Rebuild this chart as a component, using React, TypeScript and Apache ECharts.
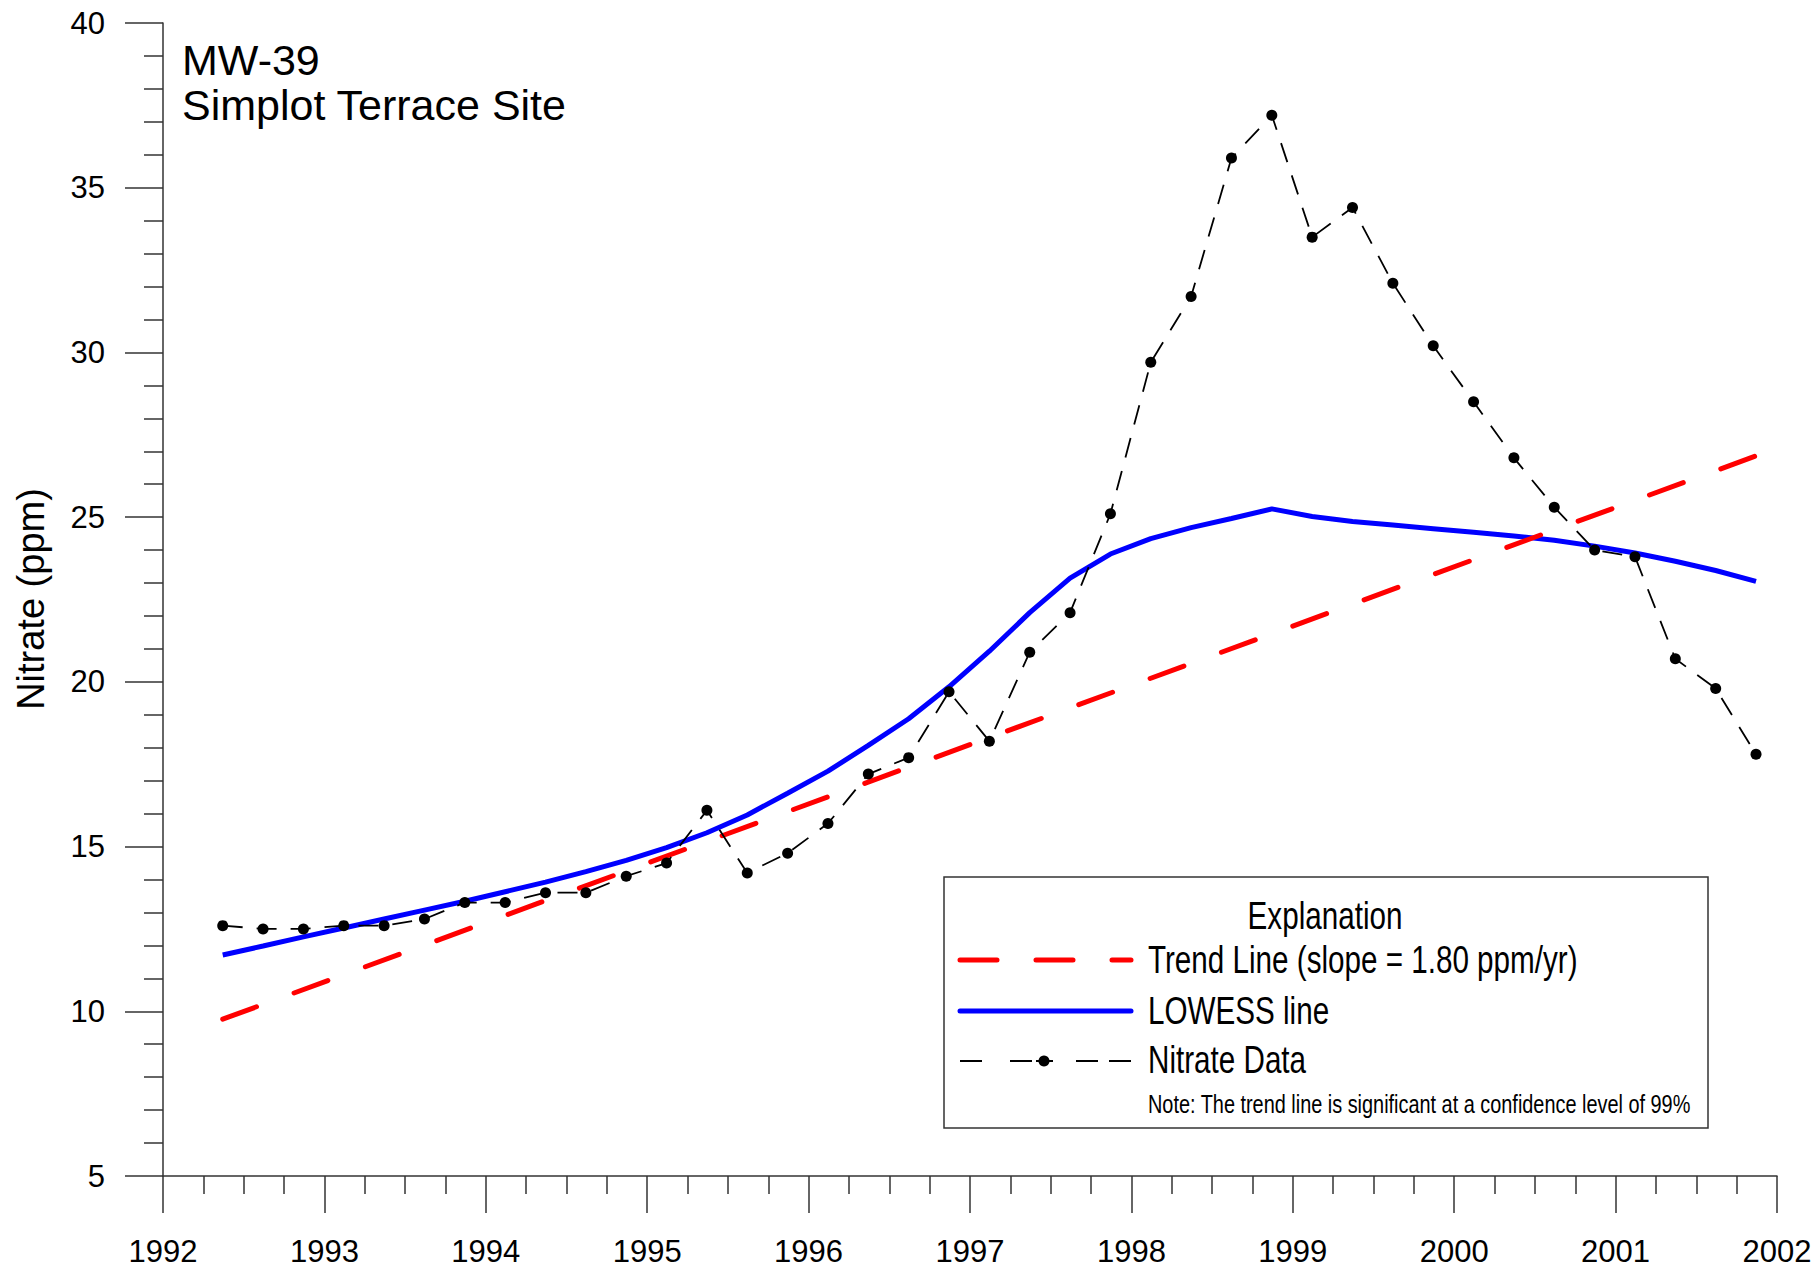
import React, { useEffect, useRef } from "react";
import * as echarts from "echarts";

// Sample dates as decimal years
const sampleYears = [
  1992.37, 1992.62, 1992.87,
  1993.12, 1993.37, 1993.62, 1993.87,
  1994.12, 1994.37, 1994.62, 1994.87,
  1995.12, 1995.37, 1995.62, 1995.87,
  1996.12, 1996.37, 1996.62, 1996.87,
  1997.12, 1997.37, 1997.62, 1997.87,
  1998.12, 1998.37, 1998.62, 1998.87,
  1999.12, 1999.37, 1999.62, 1999.87,
  2000.12, 2000.37, 2000.62, 2000.87,
  2001.12, 2001.37, 2001.62, 2001.87,
];

// Nitrate data (ppm)
const nitrate = [
  12.6, 12.5, 12.5,
  12.6, 12.6, 12.8, 13.3,
  13.3, 13.6, 13.6, 14.1,
  14.5, 16.1, 14.2, 14.8,
  15.7, 17.2, 17.7, 19.7,
  18.2, 20.9, 22.1, 25.1,
  29.7, 31.7, 35.9, 37.2,
  33.5, 34.4, 32.1, 30.2,
  28.5, 26.8, 25.3, 24.0,
  23.8, 20.7, 19.8, 17.8,
];

// LOWESS smooth (ppm)
const lowess = [
  11.71, 11.98, 12.26,
  12.53, 12.8, 13.07, 13.34,
  13.63, 13.92, 14.24, 14.58,
  14.97, 15.42, 15.96, 16.62,
  17.29, 18.07, 18.88, 19.85,
  20.93, 22.1, 23.15, 23.88,
  24.35, 24.68, 24.96, 25.25,
  25.02, 24.87, 24.76, 24.65,
  24.54, 24.43, 24.3, 24.12,
  23.91, 23.66, 23.38, 23.05,
];

// Trend line end points
const trendYears = [1992.37, 2001.87];
const trendValues = [9.76, 26.86];

const xTicks = { min: 1992, max: 2002, interval: 1 };
const yTicks = { min: 5, max: 40, interval: 5 };

const titleLines = ["MW-39", "Simplot Terrace Site"];
const yAxisName = "Nitrate (ppm)";
const legendTitle = "Explanation";
const legendLabels = ["Trend Line (slope = 1.80 ppm/yr)", "LOWESS line", "Nitrate Data"];
const legendNote = "Note: The trend line is significant at a confidence level of 99%";

const FONT = "'Liberation Sans', Arial, Helvetica, sans-serif";
const AXIS_COLOR = "#333";

export default function App() {
  const ref = useRef<HTMLDivElement>(null);

  useEffect(() => {
    document.body.style.margin = "0";
    if (!ref.current) return;
    const chart = echarts.init(ref.current, undefined, { renderer: "svg" });

    const narrow = 0.78;
    const legendText = (text: string, x: number, y: number, size: number, align = "left") => ({
      type: "text",
      x,
      y,
      scaleX: narrow,
      z: 20,
      style: {
        text,
        fontSize: size,
        fontFamily: FONT,
        fill: "#000",
        align,
        verticalAlign: "middle",
      },
    });

    const option: any = {
      animation: false,
      grid: { left: 163, right: 41, top: 23, bottom: 92, containLabel: false },
      xAxis: {
        type: "value",
        min: xTicks.min,
        max: xTicks.max,
        interval: xTicks.interval,
        axisLine: { show: true, lineStyle: { color: AXIS_COLOR, width: 1.5 } },
        axisTick: { show: true, length: 37, lineStyle: { color: AXIS_COLOR, width: 1.5 } },
        minorTick: { show: true, splitNumber: 4, length: 18, lineStyle: { color: AXIS_COLOR, width: 1.5 } },
        axisLabel: { fontSize: 31, color: "#000", fontFamily: FONT, margin: 60, formatter: (v: number) => String(v) },
        splitLine: { show: false },
      },
      yAxis: {
        type: "value",
        min: yTicks.min,
        max: yTicks.max,
        interval: yTicks.interval,
        axisLine: { show: true, lineStyle: { color: AXIS_COLOR, width: 1.5 } },
        axisTick: { show: true, length: 38, lineStyle: { color: AXIS_COLOR, width: 1.5 } },
        minorTick: { show: true, splitNumber: 5, length: 19, lineStyle: { color: AXIS_COLOR, width: 1.5 } },
        axisLabel: { fontSize: 31, color: "#000", fontFamily: FONT, margin: 58 },
        splitLine: { show: false },
      },
      series: [
        {
          name: "LOWESS line",
          type: "line",
          data: sampleYears.map((x, i) => [x, lowess[i]]),
          symbol: "none",
          lineStyle: { color: "#0000ff", width: 5 },
          z: 2,
        },
        {
          name: "Trend Line",
          type: "line",
          data: trendYears.map((x, i) => [x, trendValues[i]]),
          symbol: "none",
          lineStyle: { color: "#ff0000", width: 5, type: [36, 40], cap: "round" },
          z: 3,
        },
        {
          name: "Nitrate Data",
          type: "line",
          data: sampleYears.map((x, i) => [x, nitrate[i]]),
          symbol: "circle",
          symbolSize: 11,
          itemStyle: { color: "#000" },
          lineStyle: { color: "#000", width: 1.8, type: [20, 14] },
          z: 4,
        },
      ],
      graphic: [
        {
          type: "text",
          x: 182,
          y: 60,
          style: { text: titleLines[0], fontSize: 43, fontFamily: FONT, fill: "#000", align: "left", verticalAlign: "middle" },
        },
        {
          type: "text",
          x: 182,
          y: 105,
          style: { text: titleLines[1], fontSize: 43, fontFamily: FONT, fill: "#000", align: "left", verticalAlign: "middle" },
        },
        {
          type: "text",
          x: 31,
          y: 599,
          rotation: Math.PI / 2,
          style: { text: yAxisName, fontSize: 38, fontFamily: FONT, fill: "#000", align: "center", verticalAlign: "middle" },
        },
        {
          type: "rect",
          z: 10,
          shape: { x: 944, y: 877, width: 764, height: 251 },
          style: { fill: "#fff", stroke: AXIS_COLOR, lineWidth: 1.5 },
        },
        legendText(legendTitle, 1325, 916, 38, "center"),
        legendText(legendLabels[0], 1148, 960, 38),
        legendText(legendLabels[1], 1148, 1011, 38),
        legendText(legendLabels[2], 1148, 1060, 38),
        legendText(legendNote, 1148, 1104, 25.5),
        {
          type: "line",
          z: 20,
          shape: { x1: 960, y1: 960, x2: 1131, y2: 960 },
          style: { stroke: "#ff0000", lineWidth: 5, lineDash: [37, 39], lineCap: "round" },
        },
        {
          type: "line",
          z: 20,
          shape: { x1: 960, y1: 1011, x2: 1131, y2: 1011 },
          style: { stroke: "#0000ff", lineWidth: 5, lineCap: "round" },
        },
        { type: "line", z: 20, shape: { x1: 960, y1: 1061, x2: 982, y2: 1061 }, style: { stroke: "#000", lineWidth: 2 } },
        { type: "line", z: 20, shape: { x1: 1010, y1: 1061, x2: 1032, y2: 1061 }, style: { stroke: "#000", lineWidth: 2 } },
        { type: "line", z: 20, shape: { x1: 1036, y1: 1061, x2: 1053, y2: 1061 }, style: { stroke: "#000", lineWidth: 2 } },
        { type: "circle", z: 21, shape: { cx: 1044, cy: 1061, r: 5.5 }, style: { fill: "#000" } },
        { type: "line", z: 20, shape: { x1: 1076, y1: 1061, x2: 1098, y2: 1061 }, style: { stroke: "#000", lineWidth: 2 } },
        { type: "line", z: 20, shape: { x1: 1109, y1: 1061, x2: 1131, y2: 1061 }, style: { stroke: "#000", lineWidth: 2 } },
      ],
    };

    chart.setOption(option);
    return () => {
      chart.dispose();
    };
  }, []);

  return <div ref={ref} style={{ width: 1818, height: 1268, background: "#fff" }} />;
}
